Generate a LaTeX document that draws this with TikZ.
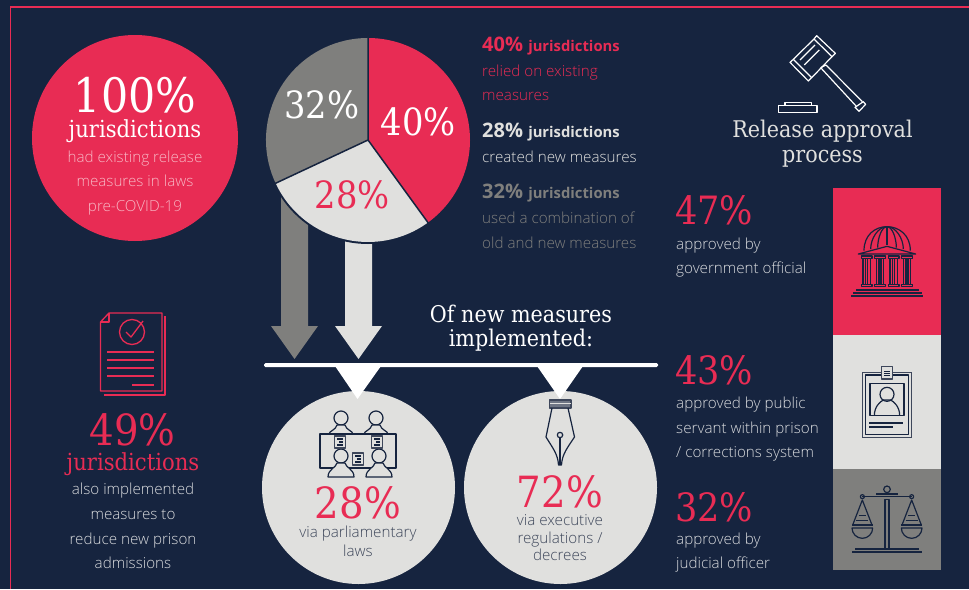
\documentclass[tikz,border=0pt]{standalone}
\usepackage{fontspec}
\setmainfont[FakeStretch=0.9]{DejaVu Serif}
\newfontfamily\bodyfont[BoldFont={Open Sans Bold}]{Open Sans Light}
\definecolor{navy}{HTML}{16243F}
\definecolor{crim}{HTML}{E82C54}
\definecolor{pale}{HTML}{E0E0DE}
\definecolor{mid}{HTML}{7F7F7D}
\definecolor{pink}{HTML}{F7B7C4}
\definecolor{soft}{HTML}{D8DADD}
\definecolor{slate}{HTML}{3E475B}
\newcommand{\pct}[1]{\fontsize{#1}{#1}\selectfont}
\newcommand{\personicon}[4]{%
  \draw[iconline,fill=pale] (#1,#2) circle[radius=7pt];
  \draw[iconline,fill=pale] (#1-#3,#4) .. controls (#1-#3,#2+13) and (#1-5,#2+12) .. (#1-4,#2+7)
    -- (#1+4,#2+7) .. controls (#1+5,#2+12) and (#1+#3,#2+13) .. (#1+#3,#4) -- cycle;}
\newcommand{\docicon}[2]{%
  \draw[iconline,fill=pale,line width=1.6pt,draw=slate] (#1-5.5,#2-6) rectangle (#1+5.5,#2+6);
  \draw[navy,line width=1.3pt] (#1-3,#2-3) -- (#1+3,#2-3) (#1-1,#2) -- (#1+3,#2) (#1-3,#2+3) -- (#1+3,#2+3);}
\newcommand{\scalehalf}[1]{%
  \draw[iconline] (#1,945) -- (#1-29,1020) -- (#1+29,1020) -- cycle;
  \draw[navy,line width=1.6pt] (#1-31,1020) -- (#1+31,1020);
  \draw[iconline] (#1-31,1029) arc[start angle=180,end angle=360,radius=10.33pt] -- cycle;
  \draw[navy,line width=1.2pt] (#1-11,992) -- (#1+11,992) (#1-18,1007) -- (#1+18,1007);
  \draw[iconline] (#1,935) circle[radius=2pt];}
\tikzset{
  serifc/.style={anchor=base,inner sep=0pt,align=center},
  bodyc/.style={anchor=base,inner sep=0pt,font=\bodyfont\pct{15.2}},
  bodyl/.style={anchor=base west,inner sep=0pt,font=\bodyfont\pct{15.2}},
  headl/.style={anchor=base west,inner sep=0pt,font=\bodyfont\bfseries\pct{14}},
  iconline/.style={draw=navy,line width=1.2pt,line join=round},
  redicon/.style={draw=crim,line width=1.3pt,line join=round},
  gavelline/.style={draw=white,line width=1.2pt,line join=round},
}
\begin{document}
\begin{tikzpicture}[x=1pt,y=-1pt]
\useasboundingbox (0,0) rectangle (969,589);
\fill[navy] (0,0) rectangle (969,589);
\draw[crim,line width=1.3pt] (969,7) -- (10.5,7) -- (10.5,589);

% big circle
\fill[crim] (135,138) circle[radius=103pt];
\node[serifc,white,font=\pct{47.5}] (hundred) at (135,112) {100\%};
\node[serifc,white,font=\pct{23.5}] (jurA) at (135,137) {jurisdictions};
\node[bodyc,pink] (a1) at (135,162) {had existing release};
\node[bodyc,pink] (a2) at (135,186.5) {measures in laws};
\node[bodyc,pink] (a3) at (135,211) {pre-COVID-19};

% down arrows (behind pie)
\fill[mid] (281,190) -- (308,190) -- (308,326) -- (318,326) -- (294.5,359) -- (271,326) -- (281,326) -- cycle;
\fill[pale] (345,235) -- (372,235) -- (372,326) -- (382,326) -- (358.5,359) -- (335,326) -- (345,326) -- cycle;

% pie
\fill[navy] (368,140) circle[radius=104pt];
\fill[crim] (368,140) -- (368,38) arc[start angle=90,end angle=-54,radius=102pt] -- cycle;
\fill[pale] (368,140) -- (427.95,222.5) arc[start angle=-54,end angle=-154.8,radius=102pt] -- cycle;
\fill[mid] (368,140) -- (275.7,183.4) arc[start angle=205.2,end angle=90,radius=102pt] -- cycle;
\draw[navy,line width=1.5pt] (368,36) -- (368,140) -- (429,224) (368,140) -- (274,184);
\node[serifc,white,font=\pct{37.5}] (p40) at (418.5,135) {40\%};
\node[serifc,white,font=\pct{37.5}] (p32) at (322,118) {32\%};
\node[serifc,crim,font=\pct{37.5}] (p28) at (352.5,208) {28\%};

% legend
\node[headl,crim] (l1) at (482,51) {\pct{20}40\% \pct{14.8}jurisdictions};
\node[bodyl,crim] (l2) at (482,76) {relied on existing};
\node[bodyl,crim] (l3) at (482,100) {measures};
\node[headl,pale] (l4) at (482,137) {\pct{20}28\% \pct{14.8}jurisdictions};
\node[bodyl,pale] (l5) at (482,162) {created new measures};
\node[headl,mid] (l6) at (482,198) {\pct{20}32\% \pct{14.8}jurisdictions};
\node[bodyl,mid] (l7) at (482,223) {used a combination of};
\node[bodyl,mid] (l8) at (482,248) {old and new measures};

% of new measures
\node[serifc,white,font=\pct{23}] (o1) at (521,322) {Of new measures};
\node[serifc,white,font=\pct{23}] (o2) at (521,346) {implemented:};
\fill[white,rounded corners=1.5pt] (264,363) rectangle (658,367);
\fill[pale] (358.5,487.5) circle[radius=96.5pt];
\fill[pale] (560.5,487.5) circle[radius=96.5pt];
\fill[white] (335,366) -- (381,366) -- (357.5,399) -- cycle;
\fill[white] (537,366) -- (583,366) -- (560,399) -- cycle;

% people icon
\draw[iconline] (320,434) rectangle (396,468);
\personicon{341}{418}{12}{434}
\personicon{376}{418}{12}{434}
\draw[iconline] (320,434) -- (396,434);
\personicon{341}{456}{13}{477}
\personicon{379}{456}{13}{477}
\docicon{340}{442}
\docicon{377}{442}
\docicon{358}{459}
\node[serifc,crim,font=\pct{43}] (c28) at (358,518) {28\%};
\node[bodyc,slate] (c1) at (358,537) {via parliamentary};
\node[bodyc,slate] (c2) at (358,556) {laws};

% pen icon
\draw[iconline,fill=slate!75,draw=slate] (549.5,400) rectangle (571,408);
\draw[pale,line width=0.7pt] (550,403.5) -- (571,403.5);
\draw[iconline] (552,408) -- (546,437) .. controls (552,447) and (558,454) .. (558.5,465) -- (561.5,465) .. controls (562,454) and (568,447) .. (574.5,437) -- (568,408);
\draw[iconline,line width=1.3pt] (560,438) -- (560,465);
\draw[iconline] (560,435) circle[radius=2.7pt];
\node[serifc,crim,font=\pct{43}] (c72) at (560,507) {72\%};
\node[bodyc,slate] (d1) at (560,525) {via executive};
\node[bodyc,slate] (d2) at (560,543) {regulations /};
\node[bodyc,slate] (d3) at (560,560) {decrees};

% document icon
\draw[redicon] (109,313) -- (162,313) -- (162,391) -- (100.5,391) -- (100.5,322) -- cycle;
\draw[redicon] (109,313) -- (109,322) -- (100.5,322);
\draw[redicon] (165,316) -- (165,395) -- (104,395);
\draw[redicon] (132,332) circle[radius=12.5pt];
\draw[redicon] (126,332) -- (131,337) -- (143,321);
\draw[crim,line width=1.7pt] (107,352) -- (154,352) (107,360) -- (154,360) (107,368) -- (154,368) (107,376) -- (154,376) (132,385) -- (154,385);
\node[serifc,crim,font=\pct{43}] (n49) at (132.5,445) {49\%};
\node[serifc,crim,font=\pct{23.5}] (jurB) at (133,470) {jurisdictions};
\node[bodyc,soft] (b1) at (133,494) {also implemented};
\node[bodyc,soft] (b2) at (133,519) {measures to};
\node[bodyc,soft] (b3) at (133,544) {reduce new prison};
\node[bodyc,soft] (b4) at (133,568) {admissions};

% gavel
\begin{scope}[shift={(700,0)},x=0.33333pt,y=-0.33333pt]
\draw[gavelline] (350,107) -- (406,160) -- (396,170) -- (342,117) -- cycle;
\draw[gavelline] (280,178) -- (335,233) -- (325,243) -- (270,187) -- cycle;
\draw[gavelline] (342,117) -- (280,178) (396,170) -- (335,233);
\draw[gavelline] (345,135) -- (300,180) (358,150) -- (313,195);
\draw[gavelline] (362,203) -- (470,320) (378,195) -- (487,305);
\draw[gavelline] (362,203) -- (378,195);
\draw[gavelline] (465,322) -- (490,305) -- (497,313) -- (477,334) -- cycle;
\draw[gavelline] (236,317) rectangle (351,337);
\draw[gavelline] (255,307) rectangle (335,317);
\end{scope}
\node[serifc,pale,font=\pct{23}] (r1) at (822.5,137) {Release approval};
\node[serifc,pale,font=\pct{23}] (r2) at (822.5,162) {process};

% panels
\fill[crim] (833,188) rectangle (941,335);
\fill[pale] (833,335) rectangle (941,469);
\fill[mid] (833,469) rectangle (941,570);

\begin{scope}[shift={(830,185)},x=0.33333pt,y=-0.33333pt]
% building
\draw[iconline] (102,197) .. controls (102,150) and (135,125) .. (171,125) .. controls (207,125) and (241,150) .. (241,197);
\draw[iconline] (122,192) .. controls (122,160) and (145,125) .. (171,125) .. controls (197,125) and (220,160) .. (220,192);
\draw[iconline] (143,188) .. controls (143,160) and (155,125) .. (171,125) .. controls (187,125) and (199,160) .. (199,188);
\draw[iconline,line width=1.4pt] (171,125) -- (171,180);
\draw[iconline,fill=crim] (85,207) -- (171,184) -- (257,207) -- cycle;
\foreach \cx in {110,150,191,231}{
  \draw[iconline] (\cx-16,213) rectangle (\cx+16,220);
  \draw[iconline] (\cx-16,298) rectangle (\cx+16,305);
  \draw[iconline] (\cx-11,220) -- (\cx-11,298) (\cx-3,220) -- (\cx-3,298) (\cx+3,220) -- (\cx+3,298) (\cx+11,220) -- (\cx+11,298);
}
\draw[navy,line width=1.7pt] (78,315) -- (267,315) (69,324) -- (276,324) (63,333) -- (279,333);
% id card
\draw[slate,line width=1.5pt] (98,562) rectangle (244,757);
\draw[iconline] (106,570) rectangle (236,749);
\draw[iconline,fill=pale,draw=slate,line width=1.5pt] (155,545) rectangle (187,582);
\draw[navy,line width=0.8pt] (162,560) -- (180,560) (162,566) -- (180,566) (162,572) -- (180,572);
\draw[iconline] (120,596) rectangle (222,692);
\draw[iconline] (171,628) circle[radius=7pt];
\draw[iconline] (133,692) .. controls (133,665) and (150,650) .. (160,645) -- (182,645) .. controls (192,650) and (209,665) .. (209,692);
\draw[navy,line width=1.6pt] (117,714) -- (219,714) (117,726) -- (189,726);
% scales
\draw[iconline] (171,913) circle[radius=3.3pt];
\draw[navy,line width=1.8pt] (138,927) -- (204,927);
\draw[iconline] (97,935) -- (245,935);
\draw[iconline] (165,944) rectangle (177,1092);
\draw[iconline] (76,1092) -- (266,1092);
\draw[navy,line width=1.6pt] (66,1101) -- (276,1101);
\scalehalf{97}
\scalehalf{245}
\end{scope}

% right stats
\node[anchor=base west,inner sep=0pt,crim,font=\pct{39}] (s47) at (675,224) {47\%};
\node[bodyl,soft] (s1) at (676,249) {approved by};
\node[bodyl,soft] (s2) at (676,273) {government official};
\node[anchor=base west,inner sep=0pt,crim,font=\pct{39}] (s43) at (675,384) {43\%};
\node[bodyl,soft] (t1) at (676,408) {approved by public};
\node[bodyl,soft] (t2) at (676,433) {servant within prison};
\node[bodyl,soft] (t3) at (676,457) {/ corrections system};
\node[anchor=base west,inner sep=0pt,crim,font=\pct{39}] (s32) at (675,521) {32\%};
\node[bodyl,soft] (u1) at (676,544) {approved by};
\node[bodyl,soft] (u2) at (676,568) {judicial officer};
\end{tikzpicture}
\end{document}
